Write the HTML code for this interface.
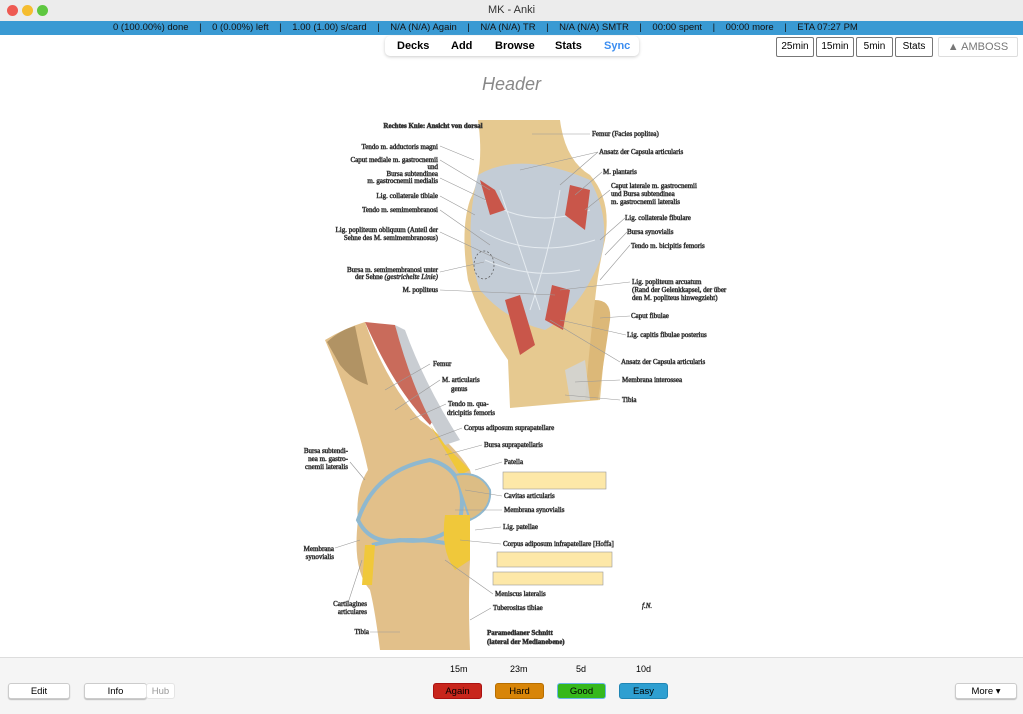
<!DOCTYPE html>
<html><head><meta charset="utf-8"><style>
*{margin:0;padding:0;box-sizing:border-box}
body{width:1023px;height:714px;overflow:hidden;background:#fff;font-family:"Liberation Sans",Arial,sans-serif;position:relative}
.title{position:absolute;left:0;top:0;width:1023px;height:21px;background:#ececec;text-align:center;font-size:11px;line-height:21px;color:#333}
.dot{position:absolute;top:5px;width:11px;height:11px;border-radius:50%}
.stat{position:absolute;left:0;top:21px;width:1023px;height:14px;background:#3a9ad3;color:#111;font-size:9.5px;line-height:14px;padding-left:113px;white-space:pre}
.nav{position:absolute;left:385px;top:36px;width:254px;height:20px;border-radius:5px;box-shadow:0 1px 3px #ccc;font-size:11px;font-weight:bold;line-height:20px}
.nav span{position:absolute}
.tb{position:absolute;top:37px;height:20px;border:1px solid #777;border-radius:2px;font-size:10px;line-height:18px;text-align:center;background:#fff}
.hdr{position:absolute;left:0;width:1023px;top:74px;text-align:center;font-size:18px;font-style:italic;color:#888}
.bottom{position:absolute;left:0;top:657px;width:1023px;height:57px;background:#f5f5f5;border-top:1px solid #ddd}
.b{position:absolute;height:16px;border-radius:3px;font-size:9.5px;line-height:16px;text-align:center}
.w{background:#fff;border:1px solid #ccc;box-shadow:0 1px 1px #bbb}
.t{position:absolute;font-size:9px;top:664px}
svg text{font-family:"Liberation Serif",serif;font-size:7px;fill:#333}
</style></head><body>
<div class="title">MK - Anki</div>
<div class="dot" style="left:7px;background:#ee5a52"></div>
<div class="dot" style="left:22px;background:#f5bd2f"></div>
<div class="dot" style="left:37px;background:#5ec740"></div>
<div class="stat">0 (100.00%) done    |    0 (0.00%) left    |    1.00 (1.00) s/card    |    N/A (N/A) Again    |    N/A (N/A) TR    |    N/A (N/A) SMTR    |    00:00 spent    |    00:00 more    |    ETA 07:27 PM</div>
<div class="nav"><span style="left:12px">Decks</span><span style="left:66px">Add</span><span style="left:110px">Browse</span><span style="left:170px">Stats</span><span style="left:219px;color:#3b8df0">Sync</span></div>
<div class="tb" style="left:776px;width:38px">25min</div>
<div class="tb" style="left:816px;width:38px">15min</div>
<div class="tb" style="left:856px;width:37px">5min</div>
<div class="tb" style="left:895px;width:38px">Stats</div>
<div class="tb" style="left:938px;width:80px;border-color:#ddd;color:#777;font-size:11px">▲ AMBOSS</div>
<div class="hdr">Header</div>

<svg style="position:absolute;left:0;top:0" width="1023" height="714">
<!-- top knee -->
<path d="M478,120 L560,120 Q565,160 590,175 Q612,200 605,240 Q598,270 595,300 Q605,330 605,345 L600,400 L510,408 L508,360 Q480,320 468,280 Q460,230 470,200 Q485,170 478,120Z" fill="#e6c990"/>
<path d="M478,175 Q520,150 590,180 Q612,220 600,260 Q580,310 545,330 Q505,320 480,290 Q462,240 478,175Z" fill="#c3ccd6"/>
<g stroke="#eef2f6" stroke-width="1" fill="none" opacity=".8">
<path d="M485,200 Q530,230 590,210 M480,230 Q530,260 595,240 M485,260 Q530,280 580,270 M500,190 Q520,250 540,310 M560,190 Q550,250 530,310"/>
</g>
<path d="M480,180 L495,190 L505,210 L490,215Z" fill="#c9564a"/>
<path d="M570,185 L590,190 L585,230 L565,215Z" fill="#c9564a"/>
<path d="M552,285 L570,290 L563,330 L545,320Z" fill="#c9564a"/>
<path d="M505,300 L520,295 L535,345 L520,355Z" fill="#c9564a"/>
<path d="M595,300 Q612,300 610,320 L598,400 L585,400 Q590,340 595,300Z" fill="#dcb878"/>
<path d="M565,370 L585,360 L590,400 L570,400Z" fill="#d0d6dc" opacity=".8"/>
<ellipse cx="484" cy="265" rx="10" ry="14" fill="none" stroke="#555" stroke-dasharray="2,2" stroke-width=".7"/>
<!-- sagittal knee -->
<path d="M325,340 Q345,328 365,322 Q385,380 420,420 Q455,445 470,470 Q480,500 462,525 L470,560 Q468,600 470,650 L380,650 Q375,610 370,590 Q352,570 358,520 Q355,490 368,470 Q355,410 325,340Z" fill="#e2c08a"/>
<path d="M327,342 Q340,330 355,326 Q362,360 368,385 Q352,380 340,365Z" fill="#a5875a" opacity=".8"/>
<path d="M365,322 L395,325 Q410,370 440,410 L430,425 Q395,390 365,322Z" fill="#c96b5b"/>
<path d="M395,325 L405,330 Q425,385 460,440 L445,445 Q415,400 395,325Z" fill="#c9cdd2"/>
<path d="M430,425 L445,445 L470,470 L460,475 Z" fill="#f0c83a"/>
<path d="M358,520 Q375,470 430,460 Q470,470 460,520 Q440,545 400,540 Q370,545 358,520Z" fill="none" stroke="#8fb8cf" stroke-width="4"/>
<path d="M372,545 Q410,535 455,545" fill="none" stroke="#8fb8cf" stroke-width="4"/>
<path d="M455,475 Q480,470 490,490 Q492,510 470,520Z" fill="#dcbd85" stroke="#8fb8cf" stroke-width="2"/>
<path d="M445,515 L470,515 L470,560 L455,570 Q440,550 445,515Z" fill="#f0c83a"/>
<path d="M365,545 L375,545 L372,585 L362,585Z" fill="#f0c83a"/>
<g stroke="#333" stroke-width=".5" fill="none">
<path d="M440,146 L474,160 M440,160 L490,190 M440,178 L486,200 M440,196 L475,215 M440,210 L490,245 M440,232 L510,265 M440,272 L484,262 M440,290 L555,295 M590,134 L532,134 M598,152 L520,170 M598,152 L560,185 M602,172 L575,195 M610,190 L585,210 M625,218 L600,240 M627,232 L605,255 M630,245 L600,280 M630,282 L560,290 M630,316 L600,318 M626,335 L560,320 M620,362 L550,320 M620,380 L575,382 M620,400 L565,395 M430,364 L385,390 M440,380 L395,410 M446,404 L410,420 M462,428 L430,440 M482,445 L445,455 M502,462 L475,470 M502,496 L465,490 M502,510 L455,510 M501,527 L475,530 M501,544 L460,540 M493,594 L445,560 M491,608 L470,620 M350,462 L365,480 M335,548 L360,540 M400,632 L370,632 M348,603 L362,560</path>
</g>
<rect x="628" y="252" width="85" height="17" fill="#fde8a8" stroke="#999" stroke-width=".6"/>
<rect x="503" y="472" width="103" height="17" fill="#fde8a8" stroke="#999" stroke-width=".6"/>
<rect x="497" y="552" width="115" height="15" fill="#fde8a8" stroke="#999" stroke-width=".6"/>
<rect x="493" y="572" width="110" height="13" fill="#fde8a8" stroke="#999" stroke-width=".6"/>
<text x="433" y="128" text-anchor="middle" font-weight="bold">Rechtes Knie: Ansicht von dorsal</text>
<g text-anchor="end">
<text x="438" y="149">Tendo m. adductoris magni</text>
<text x="438" y="162">Caput mediale m. gastrocnemii</text>
<text x="438" y="169">und</text>
<text x="438" y="176">Bursa subtendinea</text>
<text x="438" y="183">m. gastrocnemii medialis</text>
<text x="438" y="198">Lig. collaterale tibiale</text>
<text x="438" y="212">Tendo m. semimembranosi</text>
<text x="438" y="232">Lig. popliteum obliquum (Anteil der</text>
<text x="438" y="240">Sehne des M. semimembranosus)</text>
<text x="438" y="272">Bursa m. semimembranosi unter</text>
<text x="438" y="279">der Sehne <tspan font-style="italic">(gestrichelte Linie)</tspan></text>
<text x="438" y="292">M. popliteus</text>
<text x="348" y="453">Bursa subtendi-</text>
<text x="348" y="461">nea m. gastro-</text>
<text x="348" y="469">cnemii lateralis</text>
<text x="334" y="551">Membrana</text>
<text x="334" y="559">synovialis</text>
<text x="367" y="606">Cartilagines</text>
<text x="367" y="614">articulares</text>
<text x="369" y="634">Tibia</text>
</g>
<text x="592" y="136">Femur (Facies poplitea)</text>
<text x="599" y="154">Ansatz der Capsula articularis</text>
<text x="603" y="174">M. plantaris</text>
<text x="611" y="188">Caput laterale m. gastrocnemii</text>
<text x="611" y="196">und Bursa subtendinea</text>
<text x="611" y="204">m. gastrocnemii lateralis</text>
<text x="625" y="220">Lig. collaterale fibulare</text>
<text x="627" y="234">Bursa synovialis</text>
<text x="631" y="248">Tendo m. bicipitis femoris</text>
<text x="632" y="284">Lig. popliteum arcuatum</text>
<text x="632" y="292">(Rand der Gelenkkapsel, der über</text>
<text x="632" y="300">den M. popliteus hinwegzieht)</text>
<text x="631" y="318">Caput fibulae</text>
<text x="627" y="337">Lig. capitis fibulae posterius</text>
<text x="621" y="364">Ansatz der Capsula articularis</text>
<text x="622" y="382">Membrana interossea</text>
<text x="622" y="402">Tibia</text>
<text x="433" y="366">Femur</text>
<text x="442" y="382">M. articularis</text>
<text x="451" y="391">genus</text>
<text x="448" y="406">Tendo m. qua-</text>
<text x="447" y="415">dricipitis femoris</text>
<text x="464" y="430">Corpus adiposum suprapatellare</text>
<text x="484" y="447">Bursa suprapatellaris</text>
<text x="504" y="464">Patella</text>
<text x="504" y="498">Cavitas articularis</text>
<text x="504" y="512">Membrana synovialis</text>
<text x="503" y="529">Lig. patellae</text>
<text x="503" y="546">Corpus adiposum infrapatellare [Hoffa]</text>
<text x="495" y="596">Meniscus lateralis</text>
<text x="493" y="610">Tuberositas tibiae</text>
<text x="487" y="635" font-weight="bold">Paramedianer Schnitt</text>
<text x="487" y="644" font-weight="bold">(lateral der Medianebene)</text>
<text x="642" y="608" font-style="italic" font-size="9">f.N.</text>
</svg>

<div class="bottom"></div>
<div class="t" style="left:450px">15m</div>
<div class="t" style="left:510px">23m</div>
<div class="t" style="left:576px">5d</div>
<div class="t" style="left:636px">10d</div>
<div class="b w" style="left:8px;top:683px;width:62px">Edit</div>
<div class="b w" style="left:84px;top:683px;width:63px">Info</div>
<div class="b w" style="left:146px;top:683px;width:29px;color:#999;box-shadow:none;border-color:#e5e5e5">Hub</div>
<div class="b" style="left:433px;top:683px;width:49px;background:#c8261c;border:1px solid #a11">Again</div>
<div class="b" style="left:495px;top:683px;width:49px;background:#d88508;border:1px solid #b76e00">Hard</div>
<div class="b" style="left:557px;top:683px;width:49px;background:#35b81c;border:1px solid #6ab3e8">Good</div>
<div class="b" style="left:619px;top:683px;width:49px;background:#2e9fd1;border:1px solid #1f86b5">Easy</div>
<div class="b w" style="left:955px;top:683px;width:62px">More ▾</div>
</body></html>
